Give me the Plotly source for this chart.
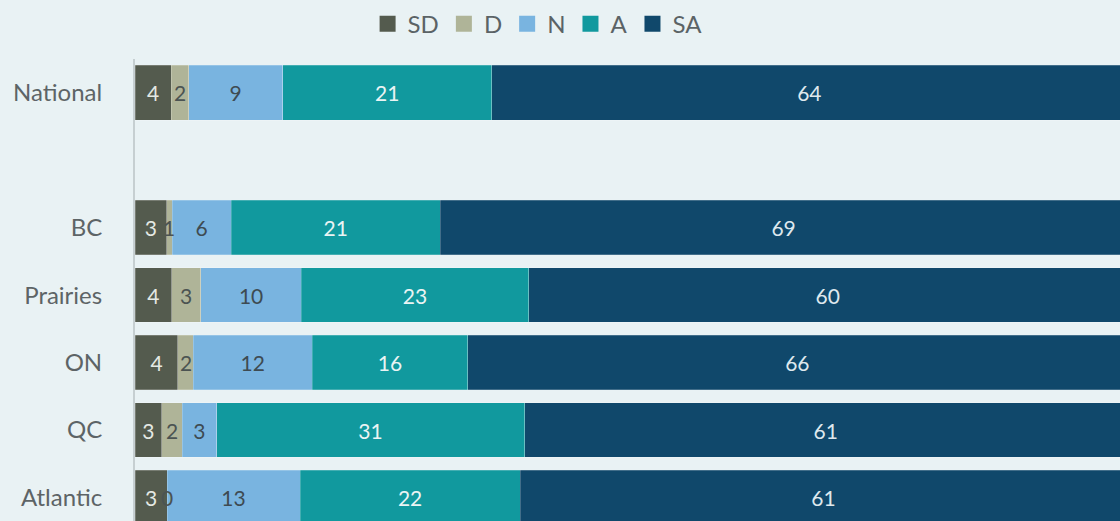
import numpy as np
import plotly.graph_objects as go

# Regions (a blank slot separates the national figure from the regions)
regions = ["National", " ", "BC", "Prairies", "ON", "QC", "Atlantic"]
bar_regions = ["National", "BC", "Prairies", "ON", "QC", "Atlantic"]

# Share of respondents (%) per response level
sd = [3.63, 3.20, 3.70, 4.33, 2.69, 3.23]
d = [1.78, 0.53, 2.95, 1.54, 2.08, 0.0]
n = [9.48, 5.95, 10.11, 12.00, 3.45, 13.41]
a = [21.07, 21.10, 22.92, 15.68, 31.05, 22.18]
sa = [64.04, 69.22, 60.32, 66.45, 60.73, 61.18]

levels = ["SD", "D", "N", "A", "SA"]
values = [sd, d, n, a, sa]
colors = ["#545b4e", "#afb498", "#79b4e0", "#11999e", "#10486b"]
label_colors = ["#e4e9e4", "#4b5352", "#3e4b52", "#eaf4f4", "#dfe8ee"]

FONT = "Lato, 'Open Sans', sans-serif"
BG = "#e9f2f4"

fig = go.Figure()
for name, vals, col, tcol in zip(levels, values, colors, label_colors):
    # the narrow "D" segments get their labels as annotations drawn on top
    narrow = name == "D"
    fig.add_trace(go.Bar(
        name=name,
        legendgroup=name,
        showlegend=False,
        y=bar_regions,
        x=vals,
        orientation="h",
        marker=dict(color=col, line=dict(color="rgba(255,255,255,0.35)", width=0.6)),
        texttemplate="" if narrow else "%{x:.0f}",
        textposition="none" if narrow else "inside",
        insidetextanchor="middle",
        constraintext="none",
        textfont=dict(family=FONT, size=21, color=tcol),
        hoverinfo="skip",
    ))

# Labels for the "D" segments, centred on each segment and kept above the bars
d_mid = np.array(sd) + np.array(d) / 2
for xm, yv, v in zip(d_mid, bar_regions, d):
    fig.add_annotation(
        x=xm, y=yv, xref="x", yref="y",
        text=f"{v:.0f}",
        showarrow=False,
        xanchor="center", yanchor="middle",
        font=dict(family=FONT, size=21, color=label_colors[1]),
    )

# Legend keys: larger square swatches tied to each bar series
for name, col in zip(levels, colors):
    fig.add_trace(go.Scatter(
        name=name,
        legendgroup=name,
        x=[None], y=[None],
        mode="markers",
        marker=dict(symbol="square", size=16, color=col),
        hoverinfo="skip",
    ))

fig.update_layout(
    barmode="stack",
    bargap=0.19,
    width=1120,
    height=521,
    margin=dict(l=135, r=0, t=59, b=0),
    paper_bgcolor=BG,
    plot_bgcolor=BG,
    font=dict(family=FONT, color="#5d6466"),
    legend=dict(
        orientation="h",
        xref="container", yref="container",
        x=0.48, xanchor="center",
        y=0.997, yanchor="top",
        font=dict(family=FONT, size=24, color="#5b6366"),
        itemwidth=30,
        traceorder="normal",
        bgcolor="rgba(0,0,0,0)",
    ),
    showlegend=True,
)

fig.update_xaxes(
    range=[0, 99.3],
    showgrid=False, zeroline=False, showticklabels=False, ticks="",
    fixedrange=True,
)
fig.update_yaxes(
    type="category",
    categoryorder="array",
    categoryarray=regions,
    range=[6.348, -0.5],
    showgrid=False, zeroline=False,
    showline=True, linecolor="#c6cfd1", linewidth=2,
    ticks="",
    ticklabelstandoff=26,
    tickfont=dict(family=FONT, size=24, color="#5d6466"),
    fixedrange=True,
)

fig.write_html("out.html")
